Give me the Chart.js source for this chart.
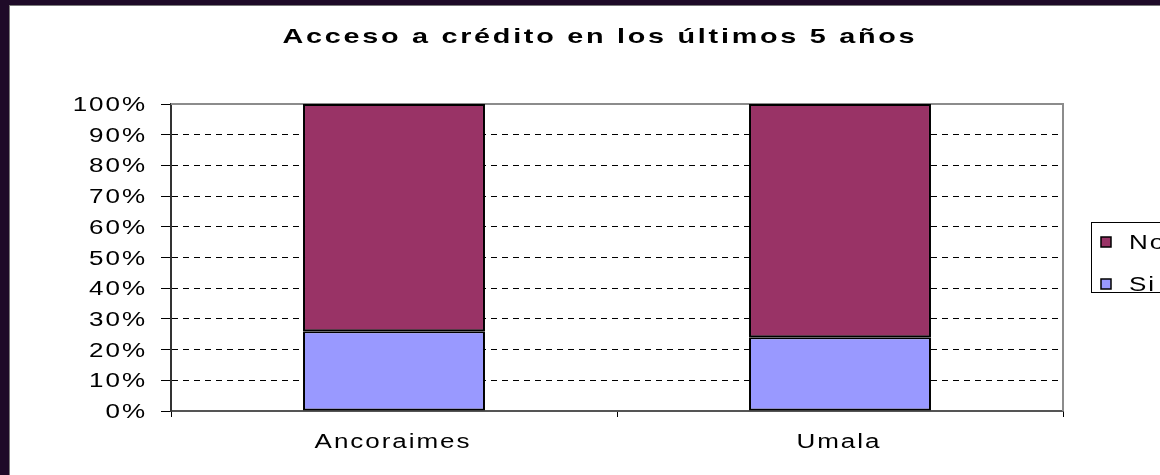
<!DOCTYPE html>
<html>
<head>
<meta charset="utf-8">
<script src="https://cdn.jsdelivr.net/npm/chart.js@4"></script>
<style>
  html, body { margin: 0; padding: 0; }
  body { width: 1160px; height: 475px; background: #1e0a28; position: relative; overflow: hidden; }
  #panel { position: absolute; left: 9px; top: 5px; width: 1150px; height: 469px;
           border-left: 1px solid #7a7a7a; border-top: 1px solid #7a7a7a; background: #fff; }
  #c { display: block; }
</style>
</head>
<body>
<div id="panel"><canvas id="c" width="1150" height="469"></canvas></div>
<script>
const title = 'Acceso a crédito en los últimos 5 años';
const categories = ['Ancoraimes', 'Umala'];
const seriesNames = ['Si', 'No'];
const siValues = [26, 24];
const noValues = [74, 76];
const yTickLabels = ['0%', '10%', '20%', '30%', '40%', '50%', '60%', '70%', '80%', '90%', '100%'];
const seriesColors = ['#9999ff', '#993366'];

const FONT = '"Liberation Sans", Arial, sans-serif';

// Draw text stretched horizontally (the reference text is wide), anchored by align.
function wideText(ctx, text, x, y, align, font, k, spacing) {
  ctx.save();
  ctx.font = font;
  ctx.letterSpacing = spacing + 'px';
  ctx.textAlign = 'left';
  ctx.textBaseline = 'alphabetic';
  ctx.fillStyle = '#000';
  const w = (ctx.measureText(text).width - spacing) * k;
  let x0 = x;
  if (align === 'right') x0 = x - w;
  else if (align === 'center') x0 = x - w / 2;
  ctx.translate(x0, y);
  ctx.scale(k, 1);
  ctx.fillText(text, 0, 0);
  ctx.restore();
}

const frame = {
  id: 'frame',
  beforeDraw(chart) {
    const ctx = chart.ctx;
    ctx.save();
    ctx.fillStyle = '#fff';
    ctx.fillRect(0, 0, chart.width, chart.height);
    ctx.restore();
  },
  beforeDatasetsDraw(chart) {
    const ctx = chart.ctx, a = chart.chartArea;
    ctx.save();
    ctx.strokeStyle = '#8c8c8c';
    ctx.lineWidth = 2;
    ctx.beginPath();
    ctx.moveTo(a.left, a.top);
    ctx.lineTo(a.right, a.top);
    ctx.lineTo(a.right, a.bottom);
    ctx.stroke();
    ctx.restore();
  },
  afterDraw(chart) {
    const ctx = chart.ctx;
    const tickFont = '20px ' + FONT;
    const ys = chart.scales.y;
    ys.ticks.forEach((t, i) => {
      wideText(ctx, yTickLabels[i], 135, ys.getPixelForTick(i) + 7, 'right', tickFont, 1.3, 1.5);
    });
    const xs = chart.scales.x;
    xs.ticks.forEach((t, i) => {
      wideText(ctx, categories[i], xs.getPixelForTick(i) - 2, 442, 'center', tickFont, 1.3, 1.5);
    });
    wideText(ctx, title, 588.5, 37, 'center', 'bold 21px ' + FONT, 1.37, 2);
    ctx.save();
    ctx.strokeStyle = '#000';
    ctx.lineWidth = 1;
    ctx.strokeRect(1081.5, 216.5, 100, 70);
    ctx.restore();
    const dsList = chart.data.datasets.slice().reverse();
    dsList.forEach((ds, i) => {
      const cy = 236 + i * 42;
      ctx.save();
      ctx.fillStyle = ds.backgroundColor;
      ctx.fillRect(1091, cy - 5, 10, 10);
      ctx.strokeStyle = '#000';
      ctx.lineWidth = 1.5;
      ctx.strokeRect(1091, cy - 5, 10, 10);
      ctx.restore();
      wideText(ctx, ds.label, 1119, cy + 7, 'left', tickFont, 1.3, 1.5);
    });
  }
};

new Chart(document.getElementById('c'), {
  type: 'bar',
  data: {
    labels: categories,
    datasets: [
      { label: seriesNames[0], data: siValues, backgroundColor: seriesColors[0],
        borderColor: '#000', borderWidth: 2, borderSkipped: false },
      { label: seriesNames[1], data: noValues, backgroundColor: seriesColors[1],
        borderColor: '#000', borderWidth: 2, borderSkipped: false }
    ]
  },
  options: {
    responsive: false,
    animation: false,
    devicePixelRatio: 1,
    layout: { padding: { left: 0, top: 98, right: 97, bottom: 0 } },
    plugins: { legend: { display: false }, title: { display: false }, tooltip: { enabled: false } },
    datasets: { bar: { categoryPercentage: 1, barPercentage: 0.408 } },
    scales: {
      x: {
        stacked: true,
        grid: { offset: true, drawOnChartArea: false, drawTicks: true, tickLength: 6,
                tickColor: '#000', tickWidth: 1 },
        border: { display: true, color: '#555', width: 2 },
        ticks: { display: false },
        afterFit(s) { s.height = 64; }
      },
      y: {
        stacked: true,
        min: 0, max: 100,
        grid: {
          color: (c) => (c.tick && (c.tick.value === 0 || c.tick.value === 100)) ? 'rgba(0,0,0,0)' : '#000',
          lineWidth: 1,
          tickLength: 10, tickColor: '#000', tickWidth: 1
        },
        border: { display: true, color: '#333', width: 2, dash: [6, 5] },
        ticks: { display: false, stepSize: 10 },
        afterFit(s) { s.width = 161; }
      }
    }
  },
  plugins: [frame]
});
</script>
</body>
</html>
